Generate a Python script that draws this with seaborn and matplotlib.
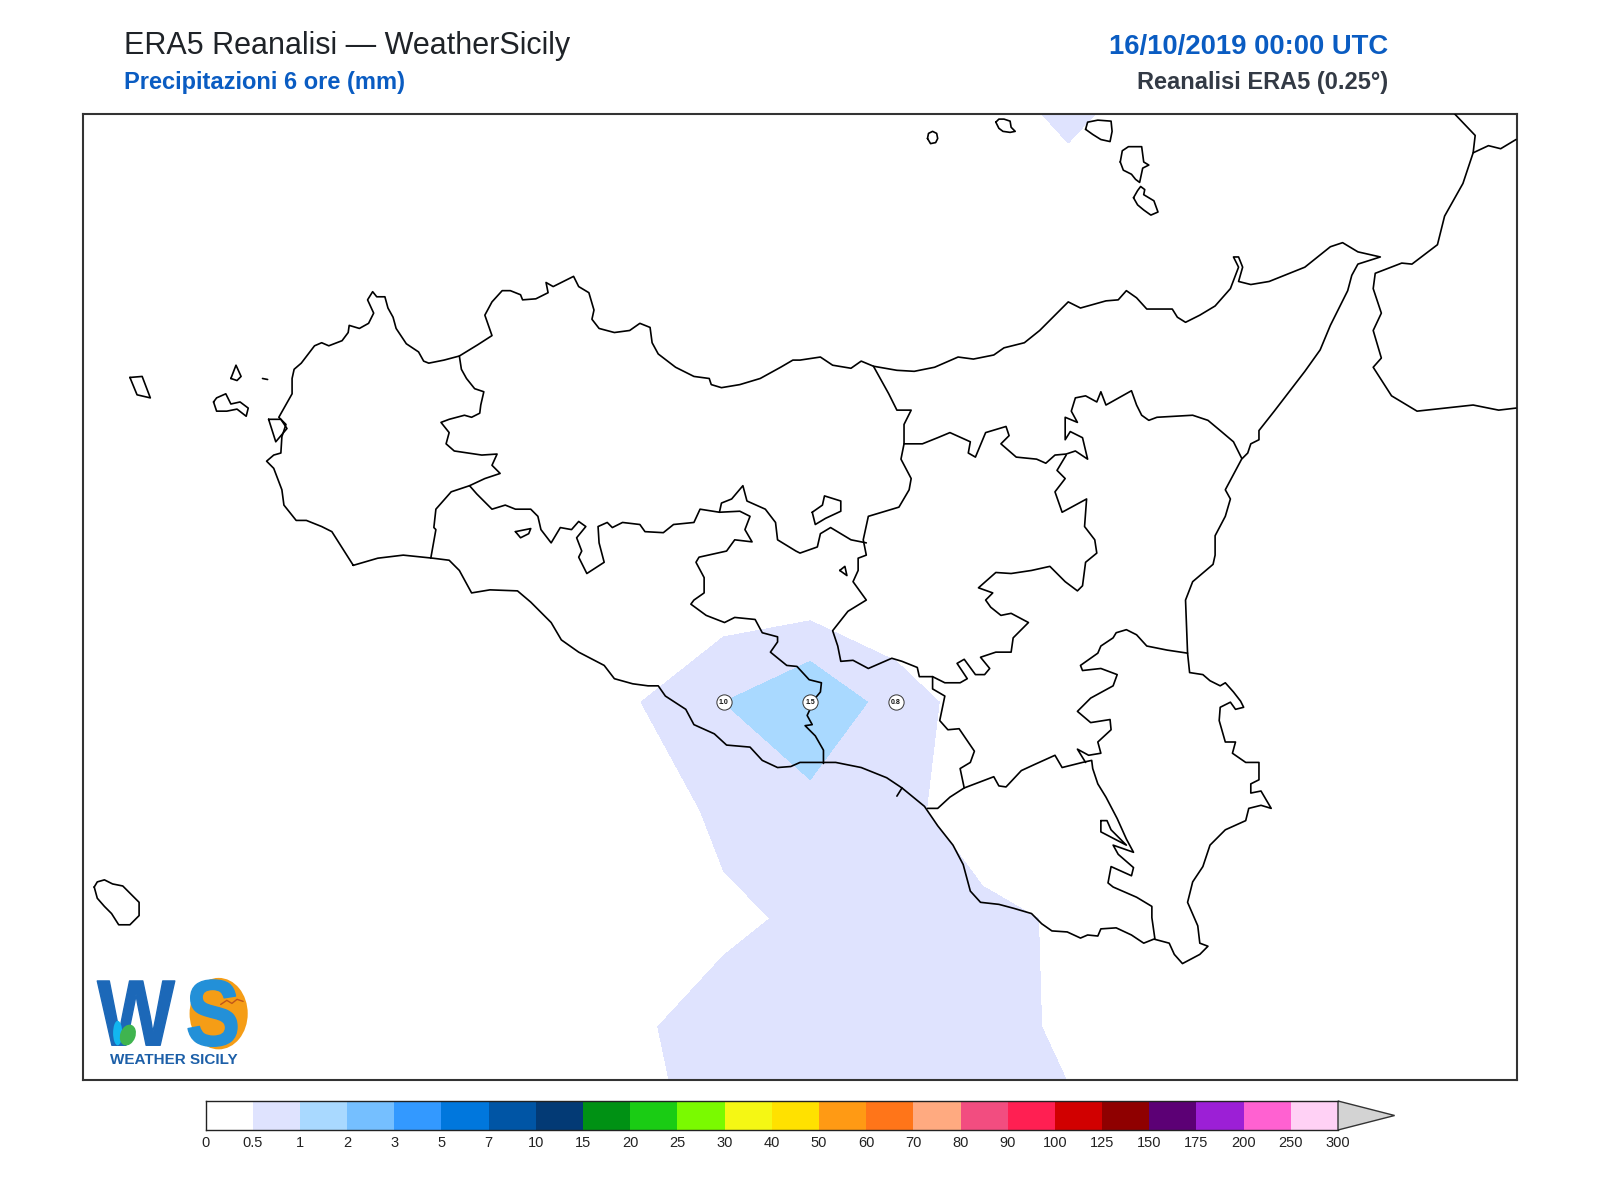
"""
ERA5 6h precipitation map over Sicily, redrawn with seaborn / matplotlib
"""

import numpy as np
import pandas as pd
import matplotlib
matplotlib.use('Agg')
import matplotlib.pyplot as plt
from matplotlib.colors import ListedColormap
from matplotlib.font_manager import FontProperties
from matplotlib.patches import Ellipse, PathPatch, Polygon
from matplotlib.textpath import TextPath
from matplotlib.transforms import Affine2D
import seaborn as sns

# colour scale
levels = [0, 0.5, 1, 2, 3, 5, 7, 10, 15, 20, 25, 30, 40, 50, 60, 70, 80, 90, 100,
          125, 150, 175, 200, 250, 300]
level_labels = ['0', '0.5', '1', '2', '3', '5', '7', '10', '15', '20', '25', '30', '40',
                '50', '60', '70', '80', '90', '100', '125', '150', '175', '200', '250', '300']
level_colors = ['#ffffff', '#dfe3fe', '#a9d9ff', '#75bfff', '#3399ff', '#0077dd', '#0055a5',
                '#033a75', '#009114', '#1acc14', '#7afa00', '#f5f714', '#ffe100', '#ff9a14',
                '#ff7519', '#ffaa80', '#f24d80', '#ff1f52', '#d10000', '#8f0000', '#5c0075',
                '#9c1fd6', '#ff61d1', '#ffd1f5']
over_color = '#d3d3d3'

# precipitation field on the 0.25 degree grid (map units are picture positions)
grid_x = [540, 625, 709, 794, 878, 963, 1047, 1132, 1216]
grid_y = [52, 158, 264, 370, 476, 582, 688, 794, 900, 1006, 1112]
precip = [
    [0, 0, 0, 0, 0, 0.48, 1.0, 0.48, 0],
    [0, 0, 0, 0, 0, 0, 0.4, 0, 0],
    [0, 0, 0, 0, 0, 0, 0, 0, 0],
    [0, 0, 0, 0, 0, 0, 0, 0, 0],
    [0, 0, 0, 0, 0, 0, 0, 0, 0],
    [0, 0, 0.17, 0.17, 0.09, 0, 0, 0, 0],
    [0, 0.48, 1.0, 1.5, 0.75, 0.25, 0, 0, 0],
    [0, 0.1, 0.65, 0.8, 0.69, 0.15, 0, 0, 0],
    [0, 0.1, 0.38, 0.605, 0.9, 0.65, 0.42, 0, 0],
    [0, 0.43, 0.73, 0.8, 0.8, 0.8, 0.365, 0, 0],
    [0, 0.3, 0.7, 0.8, 0.8, 0.8, 0.62, 0.2, 0],
]

# labelled grid points
label_x = [709, 794, 878]
label_y = [688, 688, 688]
label_text = ['1.0', '1.5', '0.8']

# coast and province borders
sicily_coast = [
    (346, 554), (325, 521), (315, 516), (300, 510), (290, 510), (278, 495), (276, 480), (268, 459),
    (261, 452), (268, 446), (275, 444), (276, 428), (280, 416), (273, 409), (286, 386), (286, 371),
    (288, 362), (295, 356), (308, 339), (315, 336), (322, 339), (335, 334), (341, 326), (342, 319),
    (352, 322), (361, 317), (366, 307), (360, 294), (365, 286), (369, 291), (377, 291), (380, 302),
    (385, 311), (388, 322), (398, 337), (410, 345), (415, 354), (420, 356), (435, 353), (450, 349),
    (468, 338), (482, 329), (475, 309), (482, 296), (492, 285), (500, 285), (510, 289), (512, 294),
    (525, 293), (537, 287), (535, 277), (542, 281), (552, 276), (562, 271), (567, 281), (577, 287),
    (582, 304), (580, 313), (587, 322), (602, 326), (617, 324), (627, 317), (637, 321), (639, 336),
    (645, 347), (662, 360), (680, 369), (695, 371), (697, 377), (707, 380), (725, 377), (745, 371),
    (765, 360), (777, 353), (784, 353), (804, 350), (816, 358), (834, 361), (844, 354), (856, 359),
    (879, 363), (896, 364), (916, 360), (939, 350), (954, 352), (974, 348), (984, 341), (1004, 336),
    (1019, 324), (1047, 296), (1059, 302), (1084, 295), (1096, 294), (1104, 285), (1114, 292),
    (1124, 303), (1149, 303), (1154, 311), (1162, 316), (1176, 309), (1191, 300), (1206, 283),
    (1214, 262), (1209, 252), (1214, 252), (1218, 262), (1214, 276), (1226, 279), (1244, 276),
    (1279, 262), (1304, 242), (1316, 238), (1331, 247), (1353, 252), (1331, 259), (1325, 270),
    (1321, 285), (1304, 319), (1294, 343), (1279, 364), (1249, 403), (1234, 422), (1234, 431),
    (1226, 435), (1223, 444), (1217, 450), (1201, 480), (1206, 489), (1201, 506), (1191, 525),
    (1191, 544), (1189, 553), (1169, 570), (1162, 588), (1164, 640), (1166, 659), (1179, 661),
    (1186, 667), (1196, 672), (1201, 669), (1209, 678), (1216, 687), (1219, 693), (1211, 695),
    (1206, 688), (1196, 693), (1195, 706), (1201, 727), (1211, 727), (1208, 738), (1221, 747),
    (1234, 747), (1234, 764), (1226, 768), (1226, 777), (1236, 775), (1246, 792), (1236, 789),
    (1224, 792), (1221, 804), (1201, 813), (1186, 828), (1179, 849), (1169, 864), (1164, 884),
    (1174, 907), (1176, 924), (1184, 927), (1176, 935), (1159, 944), (1151, 935), (1146, 924),
    (1131, 920), (1121, 924), (1109, 916), (1094, 909), (1079, 910), (1076, 917), (1066, 916),
    (1059, 919), (1046, 913), (1031, 912), (1021, 905), (1011, 895), (994, 890), (979, 886),
    (961, 884), (951, 873), (944, 847), (934, 828), (919, 809), (906, 790), (884, 772), (869, 762),
    (844, 752), (819, 747), (806, 747), (784, 747), (775, 751), (762, 752), (747, 745), (735, 732),
    (712, 730), (700, 719), (680, 710), (672, 695), (652, 682), (645, 672), (635, 672), (620, 670),
    (602, 665), (592, 652), (567, 639), (550, 627), (540, 610), (520, 590), (507, 579), (480, 578),
    (462, 581), (450, 559), (440, 549), (424, 547), (395, 544), (370, 547), (346, 554),
]
border_trapani = [
    (450, 349), (452, 362), (457, 371), (465, 381), (474, 384), (471, 397), (470, 405), (462, 409),
    (455, 407), (440, 411), (432, 414), (440, 424), (437, 435), (445, 442), (472, 446), (487, 445),
    (482, 456), (490, 464), (475, 469), (460, 476), (442, 482), (427, 499), (425, 517), (427, 519),
    (422, 547),
]
border_agrigento_n = [
    (460, 476), (467, 484), (482, 499), (495, 495), (505, 499), (520, 499), (527, 506), (530, 519),
    (540, 532), (549, 517), (560, 519), (567, 511), (574, 516), (565, 527), (570, 540), (567, 546),
    (575, 562), (592, 551), (587, 532), (586, 516), (595, 512), (600, 517), (610, 512), (627, 514),
    (632, 521), (650, 522), (660, 514), (680, 512), (686, 499), (705, 502), (707, 493), (717, 489),
    (728, 476), (732, 491), (750, 499), (760, 512), (762, 529), (780, 540), (784, 542), (801, 536),
    (804, 523), (814, 517), (834, 529), (849, 532),
]
border_agrigento_e = [
    (705, 502), (725, 501), (735, 506), (730, 519), (737, 531), (720, 529), (712, 540), (685, 546),
    (682, 551), (690, 566), (690, 581), (680, 588), (677, 592), (692, 603), (710, 610), (720, 605),
    (740, 607), (747, 620), (762, 624), (762, 629), (755, 639), (771, 652), (781, 653), (793, 666),
    (805, 669), (804, 678), (799, 684), (791, 701), (796, 710), (789, 711), (799, 721), (807, 735),
    (807, 748),
]
border_palermo_e = [
    (856, 359), (871, 386), (879, 402), (893, 402), (886, 416), (886, 435), (883, 450), (893, 469),
    (891, 480), (881, 497), (851, 506), (846, 529), (849, 544), (841, 547), (841, 559), (836, 570),
    (849, 588), (831, 599), (816, 618), (821, 633), (824, 648), (836, 647), (851, 655), (874, 645),
    (884, 648), (899, 654), (901, 663), (914, 663), (914, 675), (926, 682), (921, 706), (929, 715),
    (940, 714), (955, 736), (951, 747), (941, 753), (945, 772), (931, 781), (919, 792), (909, 792),
]
border_enna = [
    (914, 663), (926, 669), (941, 669), (948, 665), (938, 650), (945, 646), (956, 661), (965, 661),
    (970, 655), (961, 644), (976, 639), (991, 639), (993, 625), (1008, 610), (991, 601), (981, 603),
    (971, 595), (966, 588), (973, 581), (959, 576), (976, 561), (991, 562), (1011, 559), (1029, 555),
    (1044, 570), (1056, 579), (1061, 574), (1064, 551), (1075, 542), (1073, 529), (1063, 516),
    (1065, 489), (1041, 502), (1034, 482), (1044, 469), (1036, 461), (1045, 446),
]
border_messina = [
    (886, 435), (904, 435), (919, 429), (931, 424), (951, 433), (949, 444), (956, 448), (966, 424),
    (986, 418), (989, 427), (981, 435), (996, 448), (1016, 450), (1025, 454), (1034, 446), (1045, 445),
    (1054, 442), (1066, 450), (1061, 429), (1049, 423), (1044, 431), (1044, 409), (1056, 414),
    (1050, 403), (1054, 390), (1064, 388), (1075, 394), (1079, 384), (1084, 397), (1109, 383),
    (1114, 397), (1119, 407), (1126, 412), (1134, 409), (1169, 407), (1184, 412), (1196, 422),
    (1209, 433), (1217, 449),
]
border_ragusa = [
    (945, 772), (974, 761), (979, 770), (986, 771), (1001, 755), (1014, 749), (1034, 740), (1041, 752),
    (1061, 747), (1070, 745), (1071, 753), (1076, 768), (1084, 781), (1095, 802), (1104, 822),
    (1111, 835), (1091, 828), (1096, 837), (1111, 850), (1109, 858), (1089, 849), (1086, 865),
    (1091, 869), (1114, 879), (1129, 888), (1129, 899), (1132, 920),
]
border_siracusa = [
    (1164, 640), (1144, 637), (1124, 633), (1114, 622), (1104, 617), (1094, 620), (1091, 625),
    (1079, 633), (1076, 640), (1059, 652), (1061, 657), (1079, 655), (1095, 661), (1091, 672),
    (1069, 684), (1056, 697), (1069, 708), (1088, 705), (1089, 715), (1076, 727), (1079, 738),
    (1067, 740), (1056, 734), (1064, 747),
]
lake_ragusa = [(1079, 804), (1085, 804), (1089, 813), (1104, 828), (1079, 815), (1079, 804)]
exclave_enna = [(796, 502), (806, 495), (808, 486), (824, 491), (824, 501), (809, 508), (799, 514), (796, 502)]
lake_agrigento = [(505, 521), (520, 518), (518, 523), (510, 527), (505, 521)]
lake_enna = [(823, 559), (828, 555), (830, 564), (823, 559)]
gela_mark = [(879, 780), (884, 772)]
calabria = [
    (1425, 111), (1446, 133), (1444, 150), (1434, 180), (1416, 212), (1409, 240), (1384, 259),
    (1374, 258), (1348, 268), (1346, 283), (1354, 307), (1346, 324), (1354, 351), (1346, 360),
    (1364, 388), (1389, 403), (1444, 397), (1469, 402), (1486, 400),
]
calabria_n = [(1444, 150), (1459, 143), (1471, 146), (1486, 137)]
ustica = [(909, 136), (910, 131), (914, 129), (918, 131), (919, 136), (917, 140), (912, 141), (909, 136)]
alicudi = [(976, 120), (979, 117), (984, 117), (990, 119), (991, 125), (995, 129), (990, 130), (983, 129),
           (979, 126), (976, 120)]
filicudi = [(1064, 127), (1066, 120), (1076, 118), (1089, 119), (1090, 129), (1088, 139), (1079, 137),
            (1071, 132), (1064, 127)]
lipari = [(1098, 159), (1100, 148), (1106, 144), (1119, 144), (1121, 159), (1126, 162), (1120, 165),
          (1117, 179), (1113, 176), (1109, 171), (1101, 167), (1098, 159)]
vulcano = [(1111, 194), (1115, 187), (1118, 183), (1122, 186), (1121, 191), (1131, 197), (1135, 208),
           (1128, 211), (1121, 206), (1115, 201), (1111, 194)]
marettimo = [(127, 370), (139, 369), (147, 390), (134, 387), (127, 370)]
favignana = [(209, 394), (212, 390), (221, 386), (226, 396), (235, 394), (243, 400), (241, 408), (232, 401),
             (222, 403), (212, 403), (209, 394)]
levanzo = [(226, 371), (231, 358), (236, 369), (232, 373), (226, 371)]
formica = [(257, 371), (262, 372)]
stagnone = [(263, 411), (275, 411), (281, 420), (270, 433), (263, 411)]
pantelleria = [(92, 869), (95, 864), (102, 862), (110, 866), (120, 868), (127, 875), (136, 884), (136, 897),
               (127, 906), (116, 906), (109, 895), (102, 888), (95, 880), (92, 869)]

map_lines = [sicily_coast, border_trapani, border_agrigento_n, border_agrigento_e, border_palermo_e,
             border_enna, border_messina, border_ragusa, border_siracusa, lake_ragusa, exclave_enna,
             lake_agrigento, lake_enna, gela_mark, calabria, calabria_n, ustica, alicudi, filicudi,
             lipari, vulcano, marettimo, favignana, levanzo, formica, stagnone, pantelleria]


def logo_letter(ax, letter, x0, x1, y0, y1, color, zorder=3):
    """Draw one logo letter stretched into a box given in map units"""
    path = TextPath((0, 0), letter, size=10, prop=FontProperties(family='Liberation Sans', weight='bold'))
    box = path.get_extents()
    fit = (Affine2D().translate(-box.x0, -box.y0)
           .scale((x1 - x0) / box.width, -(y1 - y0) / box.height)
           .translate(x0, y1))
    ax.add_patch(PathPatch(fit.transform_path(path), facecolor=color, edgecolor=color,
                           linewidth=1.0, joinstyle='round', zorder=zorder))


sns.set_style('white')
plt.rcParams['font.family'] = ['Liberation Sans', 'DejaVu Sans']

W, H = 1600, 1200
fig = plt.figure(figsize=(16, 12), dpi=100)
ax = fig.add_axes([83 / W, 1 - 1080 / H, (1517 - 83) / W, (1080 - 114) / H])

# precipitation
cmap = ListedColormap(level_colors)
cmap.set_over(over_color)
ax.contourf(grid_x, grid_y, np.array(precip), levels=levels, colors=level_colors, zorder=1)

# coast and borders
rows = []
for i, line in enumerate(map_lines):
    for x, y in line:
        rows.append({'line': i, 'x': x, 'y': y})
lines_df = pd.DataFrame(rows)
sns.lineplot(data=lines_df, x='x', y='y', units='line', estimator=None, sort=False,
             color='black', linewidth=1.2, legend=False, ax=ax, zorder=3,
             solid_joinstyle='round')

# value labels
points_df = pd.DataFrame({'x': label_x, 'y': label_y})
sns.scatterplot(data=points_df, x='x', y='y', s=120, color='white', edgecolor='#333333',
                linewidth=0.7, legend=False, ax=ax, zorder=4)
for x, y, t in zip(label_x, label_y, label_text):
    ax.text(x, y, t, fontsize=5, fontweight='bold', ha='center', va='center', color='#111111', zorder=5)

# logo
ax.add_patch(Ellipse((214, 993), 57, 70, facecolor='#f59d16', edgecolor='none', zorder=2))
logo_letter(ax, 'W', 95, 171, 961, 1024, '#1c68b8')
logo_letter(ax, 'S', 184, 232, 960, 1025, '#2390d8')
ax.add_patch(Ellipse((115, 1012), 9, 24, facecolor='#12b6f0', edgecolor='none', zorder=4))
ax.add_patch(Ellipse((125, 1014), 15, 21, angle=20, facecolor='#3fb44f', edgecolor='none', zorder=5))
ax.plot([216, 222, 227, 232, 238], [984, 980, 983, 979, 981], color='#c0561a', lw=1.0, zorder=4)
ax.text(170, 1038, 'WEATHER SICILY', fontsize=11, fontweight='bold', color='#1c5fa8',
        ha='center', va='center', zorder=3)

ax.set_xlim(81, 1487)
ax.set_ylim(1058, 112)
ax.set_xticks([])
ax.set_yticks([])
ax.set_xlabel('')
ax.set_ylabel('')
for s in ax.spines.values():
    s.set_visible(True)
    s.set_color('#333333')
    s.set_linewidth(1.5)

# colour bar
cax = fig.add_axes([205.5 / W, 1 - 1130 / H, (1338 - 205.5) / W, 29 / H])
bar = np.arange(len(level_colors)).reshape(1, -1)
sns.heatmap(bar, cmap=cmap, cbar=False, ax=cax, xticklabels=False, yticklabels=False,
            vmin=0, vmax=len(level_colors) - 1)
cax.set_xticks(np.arange(len(levels)))
cax.set_xticklabels(level_labels, rotation=0, fontsize=10.5, color='#222222')
cax.tick_params(axis='x', length=0, pad=4)
cax.set_yticks([])
for s in cax.spines.values():
    s.set_visible(True)
    s.set_color('#222222')
    s.set_linewidth(1.0)
cax.spines['right'].set_visible(False)
n = len(level_colors)
cax.add_patch(Polygon([(n, 0), (n + 1.2, 0.5), (n, 1)], closed=True, facecolor=over_color,
                      edgecolor='#333333', linewidth=1.0, clip_on=False))

# header
fig.text(123.5 / W, 1 - 46 / H, 'ERA5 Reanalisi — WeatherSicily', fontsize=22, color='#1f2328', ha='left', va='center')
fig.text(123.5 / W, 1 - 82 / H, 'Precipitazioni 6 ore (mm)', fontsize=17, fontweight='bold', color='#0a5cc2',
         ha='left', va='center')
fig.text(1388 / W, 1 - 47 / H, '16/10/2019 00:00 UTC', fontsize=19.8, fontweight='bold', color='#0a5cc2',
         ha='right', va='center')
fig.text(1388 / W, 1 - 82 / H, 'Reanalisi ERA5 (0.25°)', fontsize=17, fontweight='bold', color='#333a45',
         ha='right', va='center')

fig.savefig('out.png', dpi=100)
